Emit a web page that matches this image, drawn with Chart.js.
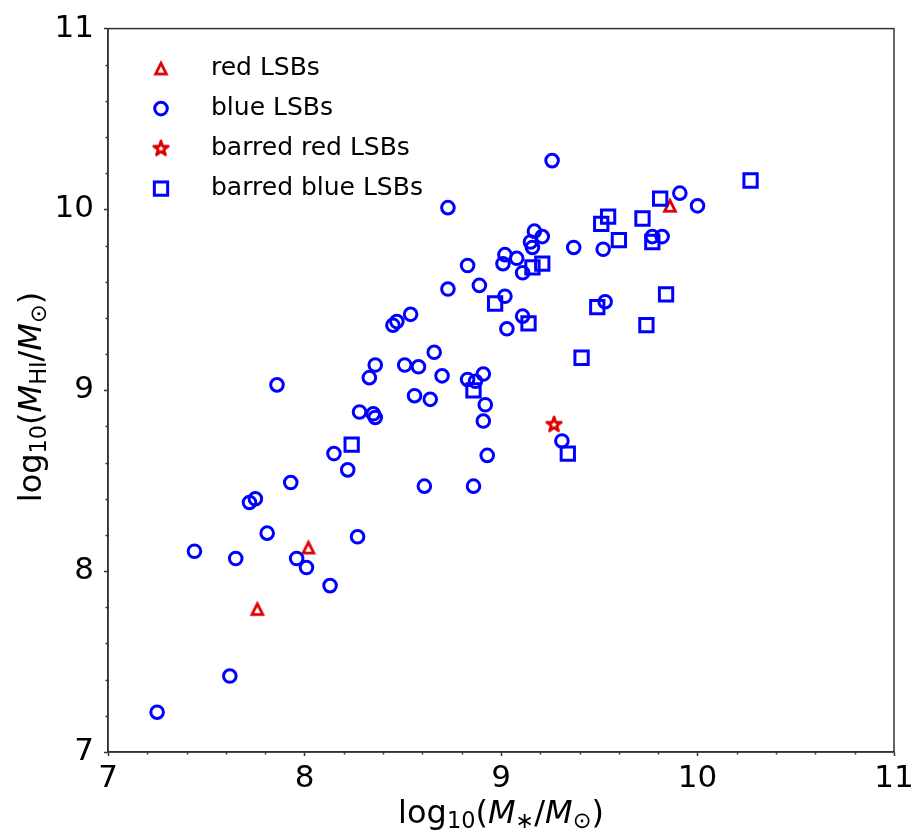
<!DOCTYPE html>
<html>
<head>
<meta charset="utf-8">
<script src="https://cdn.jsdelivr.net/npm/chart.js@4/dist/chart.umd.min.js"></script>
<style>
  html, body { margin: 0; padding: 0; background: #fff; }
  canvas { display: block; }
</style>
</head>
<body>
<canvas id="chart" width="919" height="840"></canvas>
<script>
// series names, in plotting order
const seriesNames = ['red LSBs', 'blue LSBs', 'barred red LSBs', 'barred blue LSBs'];

// log10(M*/Msun) and log10(MHI/Msun) for each sample
const redX = [7.76, 8.02, 9.86];
const redY = [7.79, 8.13, 10.02];

const blueX = [7.25, 7.62, 7.44, 7.65, 7.81, 7.72, 7.75, 7.93, 7.96, 8.01, 8.13, 8.27, 7.86, 8.15, 8.22, 8.28,
    8.35, 8.36, 8.33, 8.36, 8.45, 8.47, 8.54, 8.51, 8.58, 8.66, 8.70, 8.56, 8.64, 8.83, 8.87, 8.91, 8.92, 8.91,
    8.93, 8.61, 8.86, 9.31, 8.73, 8.83, 8.73, 8.89, 9.02, 9.01, 9.08, 9.02, 9.11, 9.03, 9.11, 9.15, 9.16, 9.17,
    9.21, 9.26, 9.37, 9.52, 9.53, 9.77, 9.82, 9.91, 10.00];
const blueY = [7.22, 7.42, 8.11, 8.07, 8.21, 8.38, 8.40, 8.49, 8.07, 8.02, 7.92, 8.19, 9.03, 8.65, 8.56, 8.88,
    8.87, 8.85, 9.07, 9.14, 9.36, 9.38, 9.42, 9.14, 9.13, 9.21, 9.08, 8.97, 8.95, 9.06, 9.05, 9.09, 8.92, 8.83,
    8.64, 8.47, 8.47, 8.72, 10.01, 9.69, 9.56, 9.58, 9.75, 9.70, 9.73, 9.52, 9.41, 9.34, 9.65, 9.82, 9.79, 9.88,
    9.85, 10.27, 9.79, 9.78, 9.49, 9.85, 9.85, 10.09, 10.02];

const barredRedX = [9.27];
const barredRedY = [8.81];

const barredBlueX = [10.27, 9.81, 9.72, 9.545, 9.51, 9.60, 9.77, 9.21, 9.16, 8.97, 9.14, 9.49, 9.84, 9.74, 9.41,
    8.86, 8.24, 9.34];
const barredBlueY = [10.16, 10.06, 9.95, 9.96, 9.92, 9.83, 9.82, 9.70, 9.68, 9.48, 9.37, 9.46, 9.53, 9.36, 9.18,
    9.00, 8.70, 8.65];

// tick labels
const xTicks = [7, 8, 9, 10, 11];
const yTicks = [7, 8, 9, 10, 11];

const RED = '#dd0000';
const BLUE = '#0000ff';
const FONT = '"DejaVu Sans", "Liberation Sans", sans-serif';

const toPoints = (xs, ys) => xs.map((x, i) => ({x: x, y: ys[i]}));

// hollow triangle / star markers as small canvases
function markerCanvas(kind) {
    const c = document.createElement('canvas');
    c.width = 24;
    c.height = 24;
    const g = c.getContext('2d');
    g.strokeStyle = RED;
    g.lineWidth = 2.8;
    g.beginPath();
    if (kind === 'triangle') {
        const s = 5.4;
        g.lineJoin = 'miter';
        g.moveTo(12, 12 - s);
        g.lineTo(12 - s, 12 + s);
        g.lineTo(12 + s, 12 + s);
    } else {
        const R = 7.6, r = R * 0.381966;
        g.lineJoin = 'round';
        for (let k = 0; k < 10; k++) {
            const a = -Math.PI / 2 + k * Math.PI / 5;
            const rr = k % 2 ? r : R;
            g.lineTo(12 + rr * Math.cos(a), 12 + rr * Math.sin(a));
        }
    }
    g.closePath();
    g.stroke();
    return c;
}
const triangleImg = markerCanvas('triangle');
const starImg = markerCanvas('star');

const isMajor = (v, list) => list.includes(Math.round(v * 10) / 10);

// minor ticks, top/right spines
const framePlugin = {
    id: 'frame',
    afterDraw(chart) {
        const ctx = chart.ctx;
        const a = chart.chartArea;
        ctx.save();
        ctx.strokeStyle = '#333';
        ctx.lineWidth = 1.5;
        const xs = chart.scales.x, ys = chart.scales.y;
        xs.ticks.forEach(t => {
            if (isMajor(t.value, xTicks)) return;
            const px = Math.round(xs.getPixelForValue(t.value)) + 0.5;
            ctx.beginPath();
            ctx.moveTo(px, a.bottom);
            ctx.lineTo(px, a.bottom + 2.5);
            ctx.stroke();
        });
        ys.ticks.forEach(t => {
            if (isMajor(t.value, yTicks)) return;
            const py = Math.round(ys.getPixelForValue(t.value)) + 0.5;
            ctx.beginPath();
            ctx.moveTo(a.left, py);
            ctx.lineTo(a.left - 2.5, py);
            ctx.stroke();
        });
        ctx.strokeRect(a.left, a.top, a.right - a.left, a.bottom - a.top);
        ctx.restore();
    }
};

// axis titles with sub-scripts
function richText(ctx, parts, size) {
    const fonts = parts.map(p => (p.it ? 'italic ' : '') + (p.sub ? size * 0.7 : size) + 'px ' + FONT);
    const widths = parts.map((p, i) => { ctx.font = fonts[i]; return ctx.measureText(p.t).width; });
    const total = widths.reduce((s, w) => s + w, 0);
    let x = -total / 2;
    parts.forEach((p, i) => {
        ctx.font = fonts[i];
        ctx.fillText(p.t, x, p.sub ? size * 0.17 : 0);
        x += widths[i];
    });
}

const titlePlugin = {
    id: 'axisTitles',
    afterDraw(chart) {
        const ctx = chart.ctx;
        const a = chart.chartArea;
        ctx.save();
        ctx.fillStyle = '#000';
        ctx.textBaseline = 'alphabetic';
        ctx.textAlign = 'left';
        ctx.translate((a.left + a.right) / 2, 823);
        richText(ctx, [
            {t: 'log'}, {t: '10', sub: true}, {t: '('}, {t: 'M', it: true}, {t: '\u2217', sub: true},
            {t: '/'}, {t: 'M', it: true}, {t: '\u2299', sub: true}, {t: ')'}
        ], 32);
        ctx.restore();

        ctx.save();
        ctx.fillStyle = '#000';
        ctx.textBaseline = 'alphabetic';
        ctx.textAlign = 'left';
        ctx.translate(41, 397);
        ctx.rotate(-Math.PI / 2);
        richText(ctx, [
            {t: 'log'}, {t: '10', sub: true}, {t: '('}, {t: 'M', it: true}, {t: 'HI', sub: true},
            {t: '/'}, {t: 'M', it: true}, {t: '\u2299', sub: true}, {t: ')'}
        ], 32);
        ctx.restore();
    }
};

// legend in the upper left corner of the axes
const cornerLegend = {
    id: 'cornerLegend',
    afterDraw(chart) {
        const ctx = chart.ctx;
        const a = chart.chartArea;
        const mx = a.left + 53;
        ctx.save();
        ctx.font = '25px ' + FONT;
        ctx.fillStyle = '#000';
        ctx.textBaseline = 'alphabetic';
        chart.data.datasets.forEach((ds, i) => {
            const y = a.top + 40 + i * 40;
            const st = ds.pointStyle;
            ctx.strokeStyle = ds.borderColor;
            ctx.lineWidth = ds.borderWidth;
            if (st === 'circle') {
                ctx.beginPath();
                ctx.arc(mx, y, ds.pointRadius, 0, Math.PI * 2);
                ctx.stroke();
            } else if (st === 'rect') {
                const h = ds.pointRadius * Math.SQRT1_2;
                ctx.strokeRect(mx - h, y - h, 2 * h, 2 * h);
            } else {
                ctx.drawImage(st, mx - st.width / 2, y - st.height / 2);
            }
            ctx.fillText(ds.label, mx + 50, y + 6);
        });
        ctx.restore();
    }
};

new Chart(document.getElementById('chart'), {
    type: 'scatter',
    data: {
        datasets: [
            {
                label: seriesNames[0],
                data: toPoints(redX, redY),
                pointStyle: triangleImg,
                pointRadius: 6,
                borderColor: RED,
                backgroundColor: 'transparent',
                borderWidth: 2.8,
                order: 4
            },
            {
                label: seriesNames[1],
                data: toPoints(blueX, blueY),
                pointStyle: 'circle',
                pointRadius: 6.3,
                borderColor: BLUE,
                backgroundColor: 'transparent',
                borderWidth: 3,
                order: 3
            },
            {
                label: seriesNames[2],
                data: toPoints(barredRedX, barredRedY),
                pointStyle: starImg,
                pointRadius: 7,
                borderColor: RED,
                backgroundColor: 'transparent',
                borderWidth: 2.8,
                order: 2
            },
            {
                label: seriesNames[3],
                data: toPoints(barredBlueX, barredBlueY),
                pointStyle: 'rect',
                pointRadius: 9.4,
                borderColor: BLUE,
                backgroundColor: 'transparent',
                borderWidth: 3,
                order: 1
            }
        ]
    },
    options: {
        responsive: false,
        animation: false,
        devicePixelRatio: 1,
        layout: {
            padding: {top: 22, right: 25, bottom: 0, left: 0}
        },
        plugins: {
            legend: {display: false},
            tooltip: {enabled: false}
        },
        scales: {
            x: {
                type: 'linear',
                min: 7,
                max: 11,
                afterFit(scale) { scale.height = 88; },
                border: {display: true, color: '#333', width: 1.5},
                grid: {
                    drawOnChartArea: false,
                    drawTicks: true,
                    tickLength: 4,
                    tickWidth: 1.5,
                    tickColor: c => isMajor(c.tick.value, xTicks) ? '#333' : 'rgba(0,0,0,0)'
                },
                ticks: {
                    stepSize: 0.2,
                    autoSkip: false,
                    maxRotation: 0,
                    padding: 4,
                    color: '#000',
                    font: {family: FONT, size: 31},
                    callback: v => isMajor(v, xTicks) ? String(Math.round(v)) : ''
                },
                title: {display: false}
            },
            y: {
                type: 'linear',
                min: 7,
                max: 11,
                afterFit(scale) { scale.width = 108; },
                border: {display: true, color: '#333', width: 1.5},
                grid: {
                    drawOnChartArea: false,
                    drawTicks: true,
                    tickLength: 4,
                    tickWidth: 1.5,
                    tickColor: c => isMajor(c.tick.value, yTicks) ? '#333' : 'rgba(0,0,0,0)'
                },
                ticks: {
                    stepSize: 0.2,
                    autoSkip: false,
                    padding: 10,
                    color: '#000',
                    font: {family: FONT, size: 31},
                    callback: v => isMajor(v, yTicks) ? String(Math.round(v)) : ''
                },
                title: {display: false}
            }
        }
    },
    plugins: [framePlugin, titlePlugin, cornerLegend]
});
</script>
</body>
</html>
